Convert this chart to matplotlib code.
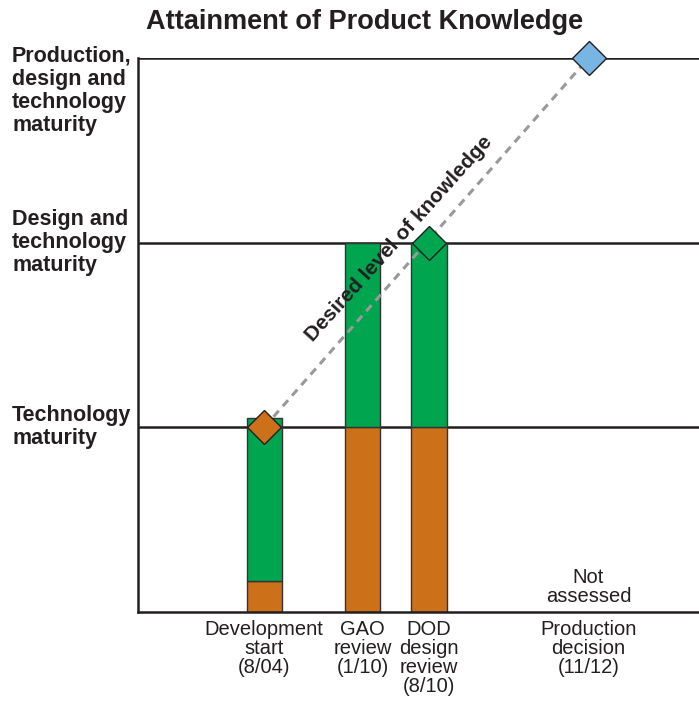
import matplotlib
matplotlib.use("Agg")
import matplotlib.pyplot as plt
from matplotlib.transforms import blended_transform_factory

plt.rcParams['font.family'] = ['Liberation Sans', 'DejaVu Sans']

# knowledge levels on the y axis
levels = [1, 2, 3]
level_labels = ["Technology\nmaturity",
                "Design and\ntechnology\nmaturity",
                "Production,\ndesign and\ntechnology\nmaturity"]

# program milestones
milestones = ["Development\nstart\n(8/04)", "GAO\nreview\n(1/10)",
              "DOD\ndesign\nreview\n(8/10)", "Production\ndecision\n(11/12)"]
xpos = [3.6, 6.4, 8.3, 12.85]

# attained knowledge per milestone (last one not assessed)
tech_known = [0.17, 1.0, 1.0]
design_known = [0.88, 1.0, 1.0]

# desired knowledge points
desired_x = [xpos[0], xpos[2], xpos[3]]
desired_y = [1, 2, 3]
desired_colors = ["#cc711a", "#00a54f", "#78b5e3"]

orange = "#cc711a"
green = "#00a54f"
ink = "#231f20"

fig = plt.figure(figsize=(6.99, 7.02), dpi=100)
ax = fig.add_axes([138/699, 90/702, 561/699, 554/702])
ax.set_xlim(0, 16)
ax.set_ylim(0, 3)

for lv in levels:
    ax.axhline(lv, color=ink, lw=1.8, zorder=1)

ax.bar(xpos[:3], tech_known, width=1.0, color=orange, edgecolor="#333333",
       lw=1, zorder=2)
ax.bar(xpos[:3], design_known, bottom=tech_known, width=1.0, color=green,
       edgecolor="#333333", lw=1, zorder=2)

# dashed line of desired knowledge, then the diamonds on top
ax.plot(desired_x[::2], desired_y[::2], color="#999999", lw=2.2,
        dashes=(2.6, 2.0), zorder=3, clip_on=False)
for x, y, c in zip(desired_x, desired_y, desired_colors):
    ax.plot(x, y, marker="D", ms=17, color=c, mec=ink, mew=1,
            zorder=4, clip_on=False)

ax.text(7.45, 2.02, "Desired level of knowledge", rotation=48,
        ha="center", va="center", fontsize=15, fontweight="bold",
        color=ink, zorder=5)

ax.text(xpos[3], 0.135, "Not\nassessed", ha="center", va="center",
        fontsize=14.5, linespacing=1.05, color=ink)

for side in ["top", "right"]:
    ax.spines[side].set_visible(False)
for side in ["left", "bottom"]:
    ax.spines[side].set_linewidth(1.8)
    ax.spines[side].set_color(ink)

ax.set_yticks([])
ax.set_xticks(xpos)
ax.set_xticklabels(milestones, fontsize=14.5, linespacing=1.0, color=ink)
ax.tick_params(axis="x", length=0, pad=6)

trans = blended_transform_factory(fig.transFigure, ax.transData)
label_kw = dict(transform=trans, ha="left", fontsize=15.5,
                fontweight="bold", linespacing=1.12, color=ink)
ax.text(12/699, 3.065, level_labels[2], va="top", **label_kw)
ax.text(12/699, 2.0, level_labels[1], va="center", **label_kw)
ax.text(12/699, 1.0, level_labels[0], va="center", **label_kw)

fig.text(365/699, 1 - 22/702, "Attainment of Product Knowledge",
         ha="center", va="center", fontsize=19.5, fontweight="bold",
         color=ink)

fig.savefig("out.png", dpi=100)
